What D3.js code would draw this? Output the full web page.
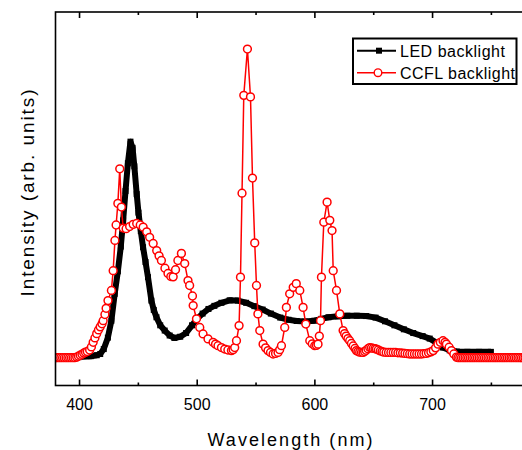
<!DOCTYPE html>
<html>
<head>
<meta charset="utf-8">
<script src="https://cdn.jsdelivr.net/npm/d3@7"></script>
<style>
  html, body { margin: 0; padding: 0; background: #fff; }
  svg { display: block; }
  text { font-family: "Liberation Sans", Arial, Helvetica, sans-serif; fill: #000; }
</style>
</head>
<body>
<svg id="chart" width="522" height="450"></svg>
<script>
// Emission spectra: [wavelength (nm), relative intensity]
const ledSpectrum = [
  [380,0],[390,0],[400,0.002],[410,0.005],[415,0.008],[418,0.012],[421,0.028],
  [424.5,0.065],[427.5,0.12],[430.3,0.207],[433,0.28],[435.5,0.36],[437.5,0.445],
  [439.5,0.54],[441.5,0.63],[443.7,0.70],[445.5,0.68],[447,0.62],[449,0.53],
  [450.5,0.47],[452.5,0.41],[454.4,0.358],[456.5,0.31],[458.6,0.261],[461.5,0.185],
  [463.5,0.155],[465.8,0.131],[469,0.105],[472.8,0.088],[477,0.072],[481,0.064],
  [486,0.068],[491,0.08],[496,0.105],[500,0.125],[505,0.143],[510,0.158],[515,0.168],
  [521,0.178],[528,0.186],[535,0.185],[542,0.178],[549,0.167],[556,0.156],[563,0.143],
  [571,0.13],[578,0.123],[585,0.119],[592,0.117],[600,0.12],[606,0.126],[612,0.131],
  [620,0.134],[628,0.136],[636,0.136],[644,0.135],[652,0.13],[660,0.118],[668,0.105],
  [676,0.092],[684,0.08],[692,0.07],[698,0.062],[704,0.048],[709,0.033],[715,0.024],
  [721,0.02],[730,0.019],[740,0.019],[750,0.019]
];

const ccflSpectrum = [
  [380,0],[381.5,0],[383,0],[384.5,0],[386,0],[387.5,0],[389,0],[390.5,0],[392,0],
  [393.5,0],[395,0],[396.5,0],[398,0.002],[399.5,0.005],[401,0.008],[402.5,0.011],
  [404,0.015],[405.5,0.018],[407,0.02],[409,0.025],[410.5,0.035],[412,0.05],
  [413.5,0.064],[415,0.078],[416.5,0.09],[418,0.1],[419.5,0.11],[420.5,0.12],
  [422,0.14],[423,0.16],[424.6,0.185],[427.5,0.218],[429,0.282],[430.5,0.38],
  [431.5,0.43],[433,0.5],[434.6,0.612],[436,0.488],[437.5,0.42],[440,0.418],
  [443,0.425],[446,0.432],[449,0.435],[452,0.43],[454.5,0.423],[457.5,0.408],
  [460,0.39],[463,0.37],[466,0.347],[468,0.33],[470,0.315],[473,0.29],[475.6,0.273],
  [478,0.263],[480,0.262],[482,0.285],[484,0.315],[487,0.338],[489.8,0.305],
  [492.6,0.25],[494,0.234],[496.4,0.2],[497,0.169],[499.8,0.126],[502.6,0.098],
  [505.4,0.077],[509.6,0.061],[513.9,0.05],[516,0.044],[518.1,0.039],[521,0.033],
  [523.8,0.028],[526.5,0.025],[529.5,0.023],[531,0.026],[532.3,0.033],[533.8,0.055],
  [536,0.104],[537.2,0.261],[538.5,0.533],[540,0.85],[543.1,1.0],[545.7,0.845],
  [547.4,0.582],[549.3,0.372],[550.8,0.234],[552,0.142],[553.6,0.088],[556.4,0.044],
  [558.5,0.032],[560.6,0.023],[562.7,0.017],[564.9,0.012],[567,0.014],[569.1,0.017],
  [570.5,0.026],[572,0.039],[574.8,0.098],[576.2,0.163],[579,0.207],[582,0.228],
  [584.6,0.24],[587.6,0.218],[590.4,0.163],[592.7,0.109],[596.1,0.055],[598.2,0.045],
  [600.3,0.039],[601.7,0.04],[603.1,0.044],[604.2,0.07],[605.2,0.12],[606,0.261],
  [608,0.439],[610.8,0.504],[613.1,0.445],[615,0.412],[616,0.282],[618.8,0.218],
  [621.6,0.142],[624.4,0.088],[625.7,0.078],[627,0.07],[628.5,0.062],[630,0.055],
  [631.5,0.046],[633,0.038],[634.5,0.03],[635.7,0.023],[637,0.02],[638.5,0.018],
  [640,0.017],[641.4,0.017],[642.7,0.02],[644,0.024],[645.5,0.029],[647,0.033],
  [648.5,0.032],[650,0.03],[651.5,0.029],[652.7,0.028],[654.3,0.025],[656,0.022],
  [657.5,0.02],[659,0.018],[661,0.017],[663,0.017],[665,0.017],[667,0.017],[669,0.017],
  [671,0.016],[673,0.016],[675,0.015],[677,0.014],[679,0.013],[681,0.012],[683,0.012],
  [685,0.012],[687,0.012],[689,0.012],[691,0.012],[693,0.013],[695,0.014],[697,0.016],
  [699,0.019],[701,0.023],[703,0.032],[705,0.044],[707,0.05],[709.3,0.055],[711,0.05],
  [712.2,0.044],[714.5,0.034],[716.5,0.023],[718.5,0.012],[720.7,0.002],[722,0],
  [723.5,0],[725,0],[726.5,0],[728,0],[729.5,0],[731,0],[732.5,0],[734,0],[735.5,0],
  [737,0],[738.5,0],[740,0],[741.5,0],[743,0],[744.5,0],[746,0],[747.5,0],[749,0],
  [750.5,0],[752,0],[753.5,0],[755,0],[756.5,0],[758,0],[759.5,0],[761,0],[762.5,0],
  [764,0],[765.5,0],[767,0],[768.5,0],[770,0],[771.5,0],[773,0],[774.5,0],[776,0],
  [777.5,0],[779,0]
];

const seriesNames = ["LED backlight", "CCFL backlight"];
const majorTicks = [400, 500, 600, 700];
const minorTicks = [450, 550, 650, 750];
const xTitle = "Wavelength (nm)";
const yTitle = "Intensity (arb. units)";

const svg = d3.select("#chart");
const plot = { left: 55.5, right: 526.2, top: 12, bottom: 385.5 };

const x = d3.scaleLinear().domain([380, 780]).range([plot.left, plot.right]);
const y = d3.scaleLinear().domain([-0.09, 1.12]).range([plot.bottom, plot.top]);

svg.append("defs").append("clipPath").attr("id", "plot-clip")
  .append("rect")
  .attr("x", plot.left).attr("y", plot.top)
  .attr("width", plot.right - plot.left).attr("height", plot.bottom - plot.top);

const dataLayer = svg.append("g").attr("clip-path", "url(#plot-clip)");
const line = d3.line().x(d => x(d[0])).y(d => y(d[1]));

// LED: heavy black trace with filled square markers
dataLayer.append("path").datum(ledSpectrum)
  .attr("d", line).attr("fill", "none").attr("stroke", "#000")
  .attr("stroke-width", 6).attr("stroke-linejoin", "round");
dataLayer.append("g").selectAll("rect").data(ledSpectrum).join("rect")
  .attr("x", d => x(d[0]) - 3).attr("y", d => y(d[1]) - 3)
  .attr("width", 6).attr("height", 6).attr("fill", "#000");

// CCFL: thin red trace with open circle markers
dataLayer.append("path").datum(ccflSpectrum)
  .attr("d", line).attr("fill", "none").attr("stroke", "#ff0000")
  .attr("stroke-width", 1.5);
dataLayer.append("g").selectAll("circle").data(ccflSpectrum).join("circle")
  .attr("cx", d => x(d[0])).attr("cy", d => y(d[1])).attr("r", 3.9)
  .attr("fill", "#fff").attr("stroke", "#ff0000").attr("stroke-width", 1.5);

// Frame
svg.append("rect")
  .attr("x", plot.left).attr("y", plot.top)
  .attr("width", plot.right - plot.left).attr("height", plot.bottom - plot.top)
  .attr("fill", "none").attr("stroke", "#000").attr("stroke-width", 1.6);

function tickAxis(axis, yPos) {
  const g = svg.append("g").attr("transform", `translate(0,${yPos})`).call(axis);
  g.select(".domain").remove();
  g.selectAll("line").attr("stroke-width", 1.6);
  return g;
}

// Bottom axis: inward ticks with labels
const bottomAxis = tickAxis(
  d3.axisBottom(x).tickValues(majorTicks).tickSize(-6).tickPadding(13.5).tickFormat(d3.format("d")),
  plot.bottom);
bottomAxis.selectAll("text").attr("font-size", 16)
  .style("font-family", "'Liberation Sans', Arial, sans-serif");
tickAxis(d3.axisBottom(x).tickValues(minorTicks).tickSize(-3).tickFormat(""), plot.bottom);

// Top axis: inward ticks, no labels
tickAxis(d3.axisTop(x).tickValues(majorTicks).tickSize(-6).tickFormat(""), plot.top);
tickAxis(d3.axisTop(x).tickValues(minorTicks).tickSize(-3).tickFormat(""), plot.top);

// Axis titles
svg.append("text")
  .attr("x", 290).attr("y", 446)
  .attr("text-anchor", "middle").attr("font-size", 18)
  .attr("textLength", 165).attr("lengthAdjust", "spacing")
  .text(xTitle);

svg.append("text")
  .attr("transform", "translate(34,193) rotate(-90)")
  .attr("text-anchor", "middle").attr("font-size", 19)
  .attr("textLength", 207).attr("lengthAdjust", "spacing")
  .text(yTitle);

// Legend
const legend = svg.append("g");
legend.append("rect")
  .attr("x", 353).attr("y", 38.5).attr("width", 163.5).attr("height", 45.5)
  .attr("fill", "#fff").attr("stroke", "#000").attr("stroke-width", 2);

const rows = [
  { name: seriesNames[0], cy: 50.7, color: "#000", marker: "square", width: 105 },
  { name: seriesNames[1], cy: 72.7, color: "#ff0000", marker: "circle", width: 115 }
];
rows.forEach(r => {
  legend.append("line")
    .attr("x1", 357).attr("x2", 396).attr("y1", r.cy).attr("y2", r.cy)
    .attr("stroke", r.color).attr("stroke-width", r.marker === "square" ? 2 : 1.5);
  if (r.marker === "square") {
    legend.append("rect").attr("x", 376).attr("y", r.cy - 3)
      .attr("width", 6).attr("height", 6).attr("fill", "#000");
  } else {
    legend.append("circle").attr("cx", 378).attr("cy", r.cy).attr("r", 3.8)
      .attr("fill", "#fff").attr("stroke", "#ff0000").attr("stroke-width", 1.4);
  }
  legend.append("text")
    .attr("x", 400).attr("y", r.cy + 5.8).attr("font-size", 16)
    .attr("textLength", r.width).attr("lengthAdjust", "spacing")
    .text(r.name);
});
</script>
</body>
</html>
